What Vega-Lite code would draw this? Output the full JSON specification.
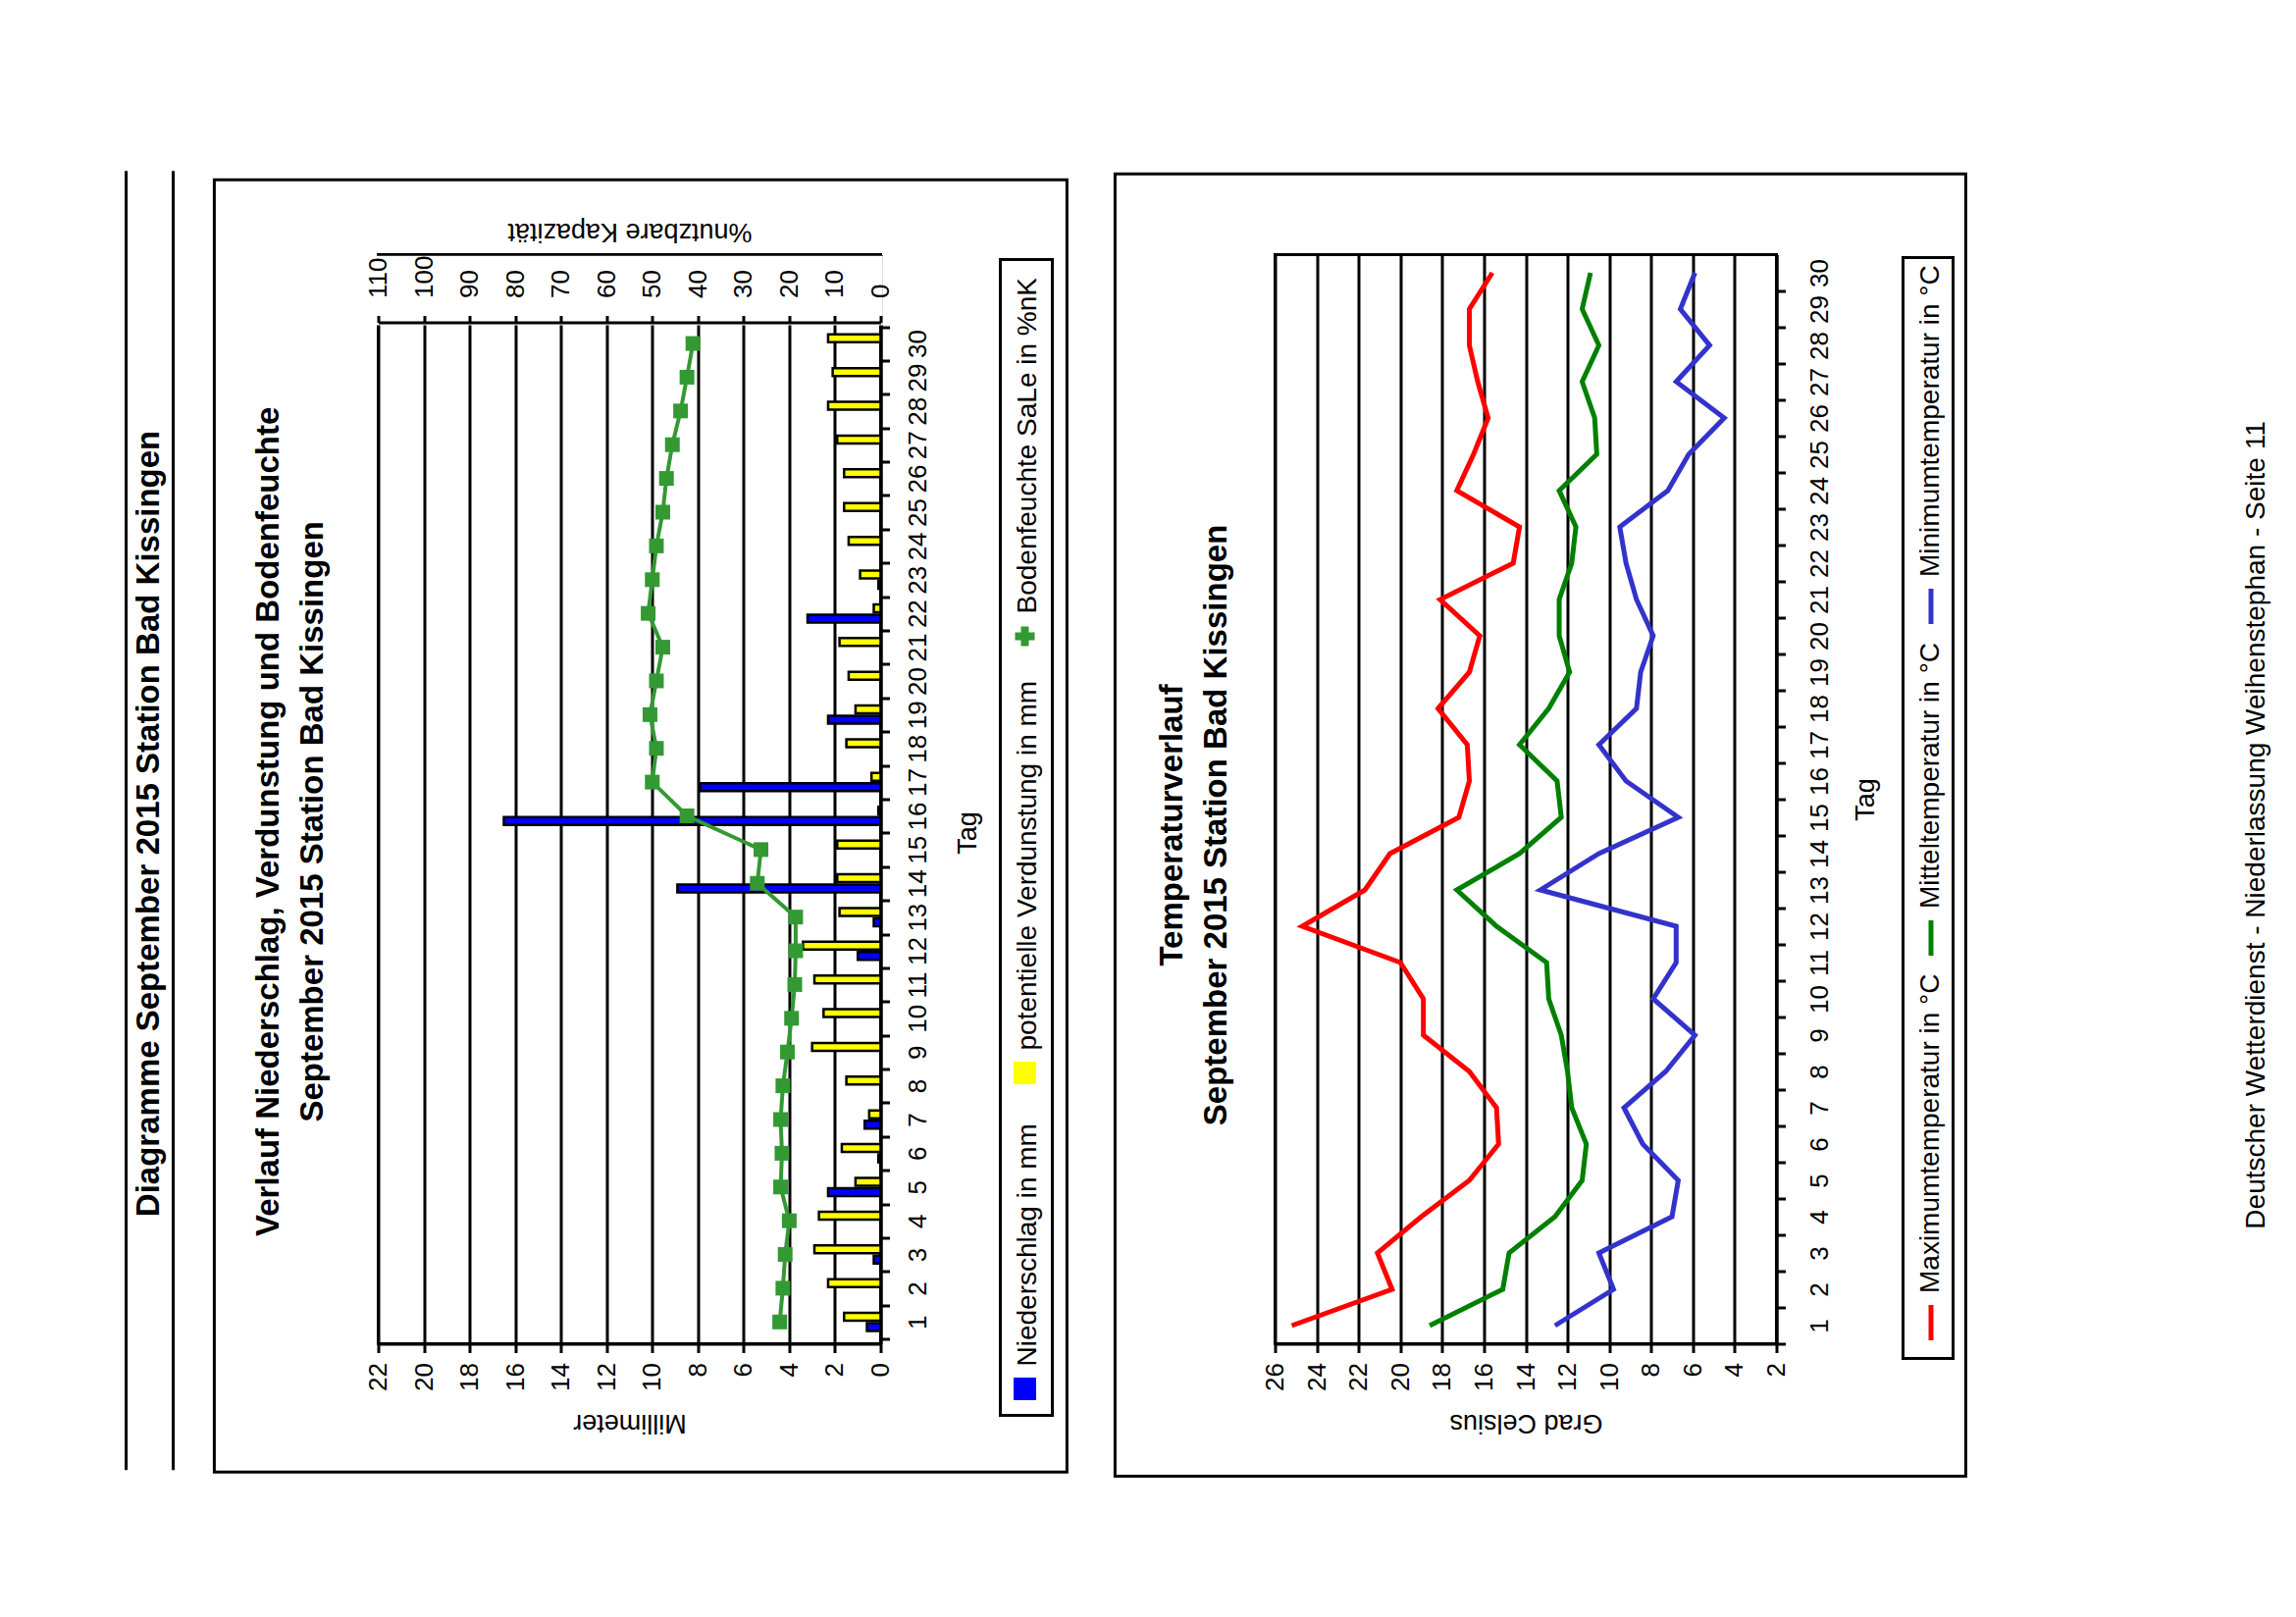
{
  "$schema": "https://vega.github.io/schema/vega-lite/v6.json",
  "background": "white",
  "padding": {"left": 125.5, "top": 170.5, "right": 0, "bottom": 0},
  "config": {
    "font": "Liberation Sans",
    "view": {"stroke": "black", "strokeWidth": 3},
    "axis": {
      "domainColor": "black", "domainWidth": 3,
      "tickColor": "black", "tickWidth": 3,
      "gridColor": "black", "gridWidth": 3, "gridOpacity": 1,
      "labelColor": "black", "labelFont": "Liberation Sans", "labelFontSize": 26,
      "titleColor": "black", "titleFont": "Liberation Sans", "titleFontSize": 27, "titleFontWeight": "normal",
      "labelOverlap": false, "labelFlush": false, "labelBound": false
    },
    "legend": {"labelFont": "Liberation Sans", "labelColor": "black"},
    "title": {"color": "black", "font": "Liberation Sans"}
  },
  "title": {"text": "Diagramme September 2015 Station Bad Kissingen", "orient": "left", "anchor": "middle", "frame": "bounds", "offset": -43, "fontSize": 33, "fontWeight": "bold"},
  "concat": [
    {
      "width": 512,
      "height": 1110,
      "data": {"values": [
        {"Tag": 1, "Niederschlag": 0.6, "Verdunstung": 1.6, "Bodenfeuchte": 22.1},
        {"Tag": 2, "Niederschlag": 0, "Verdunstung": 2.3, "Bodenfeuchte": 21.4},
        {"Tag": 3, "Niederschlag": 0.3, "Verdunstung": 2.9, "Bodenfeuchte": 20.9},
        {"Tag": 4, "Niederschlag": 0, "Verdunstung": 2.7, "Bodenfeuchte": 20.0},
        {"Tag": 5, "Niederschlag": 2.3, "Verdunstung": 1.1, "Bodenfeuchte": 21.9},
        {"Tag": 6, "Niederschlag": 0.1, "Verdunstung": 1.7, "Bodenfeuchte": 21.6},
        {"Tag": 7, "Niederschlag": 0.7, "Verdunstung": 0.5, "Bodenfeuchte": 21.9},
        {"Tag": 8, "Niederschlag": 0, "Verdunstung": 1.5, "Bodenfeuchte": 21.4},
        {"Tag": 9, "Niederschlag": 0, "Verdunstung": 3.0, "Bodenfeuchte": 20.4},
        {"Tag": 10, "Niederschlag": 0, "Verdunstung": 2.5, "Bodenfeuchte": 19.5},
        {"Tag": 11, "Niederschlag": 0, "Verdunstung": 2.9, "Bodenfeuchte": 18.8},
        {"Tag": 12, "Niederschlag": 1.0, "Verdunstung": 3.4, "Bodenfeuchte": 18.6},
        {"Tag": 13, "Niederschlag": 0.3, "Verdunstung": 1.8, "Bodenfeuchte": 18.6},
        {"Tag": 14, "Niederschlag": 8.9, "Verdunstung": 1.9, "Bodenfeuchte": 27.0},
        {"Tag": 15, "Niederschlag": 0, "Verdunstung": 1.9, "Bodenfeuchte": 26.2},
        {"Tag": 16, "Niederschlag": 16.5, "Verdunstung": 0.1, "Bodenfeuchte": 42.4},
        {"Tag": 17, "Niederschlag": 7.9, "Verdunstung": 0.4, "Bodenfeuchte": 50.0},
        {"Tag": 18, "Niederschlag": 0, "Verdunstung": 1.5, "Bodenfeuchte": 49.1},
        {"Tag": 19, "Niederschlag": 2.3, "Verdunstung": 1.1, "Bodenfeuchte": 50.5},
        {"Tag": 20, "Niederschlag": 0, "Verdunstung": 1.4, "Bodenfeuchte": 49.1},
        {"Tag": 21, "Niederschlag": 0, "Verdunstung": 1.8, "Bodenfeuchte": 47.7},
        {"Tag": 22, "Niederschlag": 3.2, "Verdunstung": 0.3, "Bodenfeuchte": 50.9},
        {"Tag": 23, "Niederschlag": 0.1, "Verdunstung": 0.9, "Bodenfeuchte": 50.0},
        {"Tag": 24, "Niederschlag": 0, "Verdunstung": 1.4, "Bodenfeuchte": 49.1},
        {"Tag": 25, "Niederschlag": 0, "Verdunstung": 1.6, "Bodenfeuchte": 47.7},
        {"Tag": 26, "Niederschlag": 0, "Verdunstung": 1.6, "Bodenfeuchte": 46.9},
        {"Tag": 27, "Niederschlag": 0, "Verdunstung": 1.9, "Bodenfeuchte": 45.6},
        {"Tag": 28, "Niederschlag": 0, "Verdunstung": 2.3, "Bodenfeuchte": 43.8},
        {"Tag": 29, "Niederschlag": 0, "Verdunstung": 2.1, "Bodenfeuchte": 42.4},
        {"Tag": 30, "Niederschlag": 0, "Verdunstung": 2.3, "Bodenfeuchte": 41.1}
      ]},
      "title": {"text": ["Verlauf Niederschlag, Verdunstung und Bodenfeuchte", "September 2015 Station Bad Kissingen"], "orient": "left", "anchor": "middle", "frame": "bounds", "offset": -209, "fontSize": 33, "fontWeight": "bold", "lineHeight": 45},
      "layer": [
        {
          "layer": [
            {
              "mark": {"type": "bar", "size": 8, "yOffset": 5.25, "stroke": "black", "strokeWidth": 2.5},
              "encoding": {
                "x": {"field": "Niederschlag", "type": "quantitative", "scale": {"domain": [0, 22], "reverse": true, "nice": false, "zero": false},
                  "axis": {"orient": "bottom", "values": [0, 2, 4, 6, 8, 10, 12, 14, 16, 18, 20, 22], "tickCount": 100, "format": "d", "labelAngle": 270, "labelAlign": "right", "labelBaseline": "middle", "labelPadding": 10, "labelOverlap": false, "tickSize": 9, "grid": true, "title": "Millimeter", "titleAngle": 180, "titleBaseline": "bottom", "titlePadding": 18}},
                "x2": {"datum": 0},
                "y": {"field": "Tag", "type": "quantitative", "scale": {"domain": [0.5, 32.488], "nice": false, "zero": false},
                  "axis": {"orient": "right", "values": [1, 2, 3, 4, 5, 6, 7, 8, 9, 10, 11, 12, 13, 14, 15, 16, 17, 18, 19, 20, 21, 22, 23, 24, 25, 26, 27, 28, 29, 30, 31], "tickCount": 100, "format": "d", "labelExpr": "datum.value > 30 ? '' : datum.label", "labelOverlap": false, "tickOffset": 17.35, "labelOffset": -17.35, "labelAngle": 270, "labelAlign": "center", "labelBaseline": "top", "labelPadding": 16, "tickSize": 9, "grid": false, "title": "Tag", "titleAngle": 270, "titleBaseline": "top", "titlePadding": 25, "titleY": 589}},
                "color": {"datum": "Niederschlag in mm", "scale": {"domain": ["Bodenfeuchte SaLe in %nK", "potentielle Verdunstung in mm", "Niederschlag in mm"], "range": ["#339933", "#FFFF00", "#0000FF"]},
                  "legend": {"orient": "none", "legendX": 634, "legendY": 5, "direction": "vertical", "title": " ", "titleFontSize": 1, "titleOpacity": 0, "titlePadding": 358, "strokeColor": "black", "fillColor": "white", "padding": 11, "rowPadding": 35, "labelFontSize": 28, "labelLimit": 2000, "labelAlign": "left", "labelBaseline": "middle", "labelOffset": 4, "symbolSize": 400, "symbolStrokeWidth": 3, "symbolStrokeColor": "black", "symbolType": "square",
                    "encoding": {
                      "labels": {"angle": {"value": 270}, "dx": {"value": 23}, "dy": {"value": -15}},
                      "symbols": {"shape": {"value": {"expr": "datum.value === 'Bodenfeuchte SaLe in %nK' ? 'cross' : 'square'"}}, "stroke": {"value": {"expr": "datum.value === 'Bodenfeuchte SaLe in %nK' ? 'transparent' : 'black'"}}, "strokeWidth": {"value": {"expr": "datum.value === 'Bodenfeuchte SaLe in %nK' ? 0 : 3"}}, "strokeOpacity": {"value": 1}, "opacity": {"value": 1}},
                      "legend": {"strokeWidth": {"value": 3}}
                    }}}
              }
            },
            {
              "mark": {"type": "bar", "size": 8, "yOffset": -5.25, "stroke": "black", "strokeWidth": 2.5},
              "encoding": {
                "x": {"field": "Verdunstung", "type": "quantitative", "scale": {"domain": [0, 22], "reverse": true, "nice": false, "zero": false}},
                "x2": {"datum": 0},
                "y": {"field": "Tag", "type": "quantitative", "scale": {"domain": [0.5, 32.488], "nice": false, "zero": false}},
                "color": {"datum": "potentielle Verdunstung in mm", "scale": {"domain": ["Bodenfeuchte SaLe in %nK", "potentielle Verdunstung in mm", "Niederschlag in mm"], "range": ["#339933", "#FFFF00", "#0000FF"]}}
              }
            },
            {
              "data": {"values": [{}]},
              "mark": {"type": "rect", "fill": "white", "stroke": null},
              "encoding": {
                "x": {"datum": 22.1, "type": "quantitative", "scale": {"domain": [0, 22], "reverse": true, "nice": false, "zero": false}},
                "x2": {"datum": -0.1},
                "y": {"datum": 32.6, "type": "quantitative", "scale": {"domain": [0.5, 32.488], "nice": false, "zero": false}},
                "y2": {"datum": 30.54}
              }
            },
            {
              "data": {"values": [{}]},
              "mark": {"type": "rect", "fill": "transparent", "stroke": "black", "strokeWidth": 3},
              "encoding": {
                "x": {"datum": 29.18, "type": "quantitative", "scale": {"domain": [0, 22], "reverse": true, "nice": false, "zero": false}},
                "x2": {"datum": -8.16},
                "y": {"datum": 34.85, "type": "quantitative", "scale": {"domain": [0.5, 32.488], "nice": false, "zero": false}},
                "y2": {"datum": -3.45}
              }
            },
            {
              "data": {"values": [{}]},
              "mark": {"type": "rule", "stroke": "black", "strokeWidth": 3},
              "encoding": {
                "x": {"datum": 33.04, "type": "quantitative", "scale": {"domain": [0, 22], "reverse": true, "nice": false, "zero": false}},
                "y": {"datum": 35.11, "type": "quantitative", "scale": {"domain": [0.5, 32.488], "nice": false, "zero": false}},
                "y2": {"datum": -3.39}
              }
            },
            {
              "data": {"values": [{}]},
              "mark": {"type": "rule", "stroke": "black", "strokeWidth": 3},
              "encoding": {
                "x": {"datum": 30.98, "type": "quantitative", "scale": {"domain": [0, 22], "reverse": true, "nice": false, "zero": false}},
                "y": {"datum": 35.11, "type": "quantitative", "scale": {"domain": [0.5, 32.488], "nice": false, "zero": false}},
                "y2": {"datum": -3.39}
              }
            }
          ]
        },
        {
          "mark": {"type": "line", "strokeWidth": 4, "point": {"shape": "square", "size": 225, "filled": true}},
          "encoding": {
            "x": {"field": "Bodenfeuchte", "type": "quantitative", "scale": {"domain": [0, 110], "reverse": true, "nice": false, "zero": false},
              "axis": {"orient": "top", "offset": -69, "zindex": 1, "values": [0, 10, 20, 30, 40, 50, 60, 70, 80, 90, 100, 110], "tickCount": 100, "format": "d", "labelAngle": 270, "labelAlign": "left", "labelBaseline": "middle", "labelPadding": 18, "labelOverlap": false, "tickSize": 7, "grid": false, "title": "%nutzbare Kapazität", "titleAngle": 180, "titleBaseline": "top", "titlePadding": 12}},
            "y": {"field": "Tag", "type": "quantitative", "scale": {"domain": [0.5, 32.488], "nice": false, "zero": false}},
            "order": {"field": "Tag", "type": "quantitative"},
            "color": {"datum": "Bodenfeuchte SaLe in %nK", "scale": {"domain": ["Bodenfeuchte SaLe in %nK", "potentielle Verdunstung in mm", "Niederschlag in mm"], "range": ["#339933", "#FFFF00", "#0000FF"]}}
          }
        }
      ],
      "resolve": {"scale": {"x": "independent"}, "axis": {"x": "independent"}}
    },
    {
      "title": {"text": "Deutscher Wetterdienst - Niederlassung Weihenstephan - Seite 11", "orient": "right", "anchor": "middle", "frame": "bounds", "angle": 270, "baseline": "top", "offset": 252, "fontSize": 28, "fontWeight": "normal"},
      "hconcat": [
        {
          "width": 511,
          "height": 1110,
          "data": {"values": [
            {"Tag": 1, "Max": 25.2, "Mittel": 18.6, "Min": 12.6},
            {"Tag": 2, "Max": 20.4, "Mittel": 15.1, "Min": 9.8},
            {"Tag": 3, "Max": 21.1, "Mittel": 14.8, "Min": 10.5},
            {"Tag": 4, "Max": 19.0, "Mittel": 12.6, "Min": 7.0},
            {"Tag": 5, "Max": 16.7, "Mittel": 11.3, "Min": 6.7},
            {"Tag": 6, "Max": 15.3, "Mittel": 11.1, "Min": 8.4},
            {"Tag": 7, "Max": 15.4, "Mittel": 11.8, "Min": 9.3},
            {"Tag": 8, "Max": 16.7, "Mittel": 12.0, "Min": 7.3},
            {"Tag": 9, "Max": 18.9, "Mittel": 12.3, "Min": 5.9},
            {"Tag": 10, "Max": 18.9, "Mittel": 12.9, "Min": 7.9},
            {"Tag": 11, "Max": 20.0, "Mittel": 13.0, "Min": 6.8},
            {"Tag": 12, "Max": 24.7, "Mittel": 15.4, "Min": 6.8},
            {"Tag": 13, "Max": 21.7, "Mittel": 17.3, "Min": 13.3},
            {"Tag": 14, "Max": 20.5, "Mittel": 14.3, "Min": 10.5},
            {"Tag": 15, "Max": 17.2, "Mittel": 12.3, "Min": 6.7},
            {"Tag": 16, "Max": 16.7, "Mittel": 12.5, "Min": 9.2},
            {"Tag": 17, "Max": 16.8, "Mittel": 14.3, "Min": 10.5},
            {"Tag": 18, "Max": 18.2, "Mittel": 12.9, "Min": 8.7},
            {"Tag": 19, "Max": 16.7, "Mittel": 11.9, "Min": 8.5},
            {"Tag": 20, "Max": 16.2, "Mittel": 12.4, "Min": 7.9},
            {"Tag": 21, "Max": 18.1, "Mittel": 12.4, "Min": 8.7},
            {"Tag": 22, "Max": 14.6, "Mittel": 11.8, "Min": 9.2},
            {"Tag": 23, "Max": 14.3, "Mittel": 11.6, "Min": 9.5},
            {"Tag": 24, "Max": 17.3, "Mittel": 12.4, "Min": 7.2},
            {"Tag": 25, "Max": 16.5, "Mittel": 10.6, "Min": 6.2},
            {"Tag": 26, "Max": 15.8, "Mittel": 10.7, "Min": 4.5},
            {"Tag": 27, "Max": 16.3, "Mittel": 11.3, "Min": 6.8},
            {"Tag": 28, "Max": 16.7, "Mittel": 10.5, "Min": 5.2},
            {"Tag": 29, "Max": 16.7, "Mittel": 11.3, "Min": 6.6},
            {"Tag": 30, "Max": 15.6, "Mittel": 10.9, "Min": 5.9}
          ]},
          "title": {"text": ["Temperaturverlauf", "September 2015 Station Bad Kissingen"], "orient": "left", "anchor": "middle", "frame": "bounds", "offset": -122, "fontSize": 33, "fontWeight": "bold", "lineHeight": 45},
          "layer": [
            {
              "mark": {"type": "line", "strokeWidth": 5},
              "encoding": {
                "x": {"field": "Max", "type": "quantitative", "scale": {"domain": [2, 26], "reverse": true, "nice": false, "zero": false},
                  "axis": {"orient": "bottom", "values": [2, 4, 6, 8, 10, 12, 14, 16, 18, 20, 22, 24, 26], "tickCount": 100, "format": "d", "labelAngle": 270, "labelAlign": "right", "labelBaseline": "middle", "labelPadding": 10, "labelOverlap": false, "tickSize": 9, "grid": true, "title": "Grad Celsius", "titleAngle": 180, "titleBaseline": "bottom", "titlePadding": 18}},
                "y": {"field": "Tag", "type": "quantitative", "scale": {"domain": [0.5, 30.5], "nice": false, "zero": false},
                  "axis": {"orient": "right", "values": [1, 2, 3, 4, 5, 6, 7, 8, 9, 10, 11, 12, 13, 14, 15, 16, 17, 18, 19, 20, 21, 22, 23, 24, 25, 26, 27, 28, 29, 30], "tickCount": 100, "format": "d", "labelOverlap": false, "tickOffset": 18.5, "labelOffset": -18.5, "labelAngle": 270, "labelAlign": "center", "labelBaseline": "top", "labelPadding": 22, "tickSize": 9, "grid": false, "title": "Tag", "titleAngle": 270, "titleBaseline": "top", "titlePadding": 21}},
                "order": {"field": "Tag", "type": "quantitative"},
                "color": {"datum": "Maximumtemperatur in °C", "scale": {"domain": ["Minimumtemperatur in °C", "Mitteltemperatur in °C", "Maximumtemperatur in °C"], "range": ["#3333CC", "#008000", "#FF0000"]},
                  "legend": {"orient": "none", "legendX": 640, "legendY": 3, "direction": "vertical", "title": " ", "titleFontSize": 1, "titleOpacity": 0, "titlePadding": 326, "strokeColor": "black", "fillColor": "white", "padding": 8, "rowPadding": 8, "labelFontSize": 28, "labelLimit": 2000, "labelAlign": "left", "labelBaseline": "middle", "labelOffset": 4, "symbolSize": 1296, "symbolStrokeWidth": 5, "symbolType": "M0,-1L0,1",
                    "encoding": {
                      "labels": {"angle": {"value": 270}, "dx": {"value": 30}, "dy": {"value": -24.5}},
                      "legend": {"strokeWidth": {"value": 3}}
                    }}}
              }
            },
            {
              "mark": {"type": "line", "strokeWidth": 5},
              "encoding": {
                "x": {"field": "Mittel", "type": "quantitative", "scale": {"domain": [2, 26], "reverse": true, "nice": false, "zero": false}},
                "y": {"field": "Tag", "type": "quantitative", "scale": {"domain": [0.5, 30.5], "nice": false, "zero": false}},
                "order": {"field": "Tag", "type": "quantitative"},
                "color": {"datum": "Mitteltemperatur in °C", "scale": {"domain": ["Minimumtemperatur in °C", "Mitteltemperatur in °C", "Maximumtemperatur in °C"], "range": ["#3333CC", "#008000", "#FF0000"]}}
              }
            },
            {
              "mark": {"type": "line", "strokeWidth": 5},
              "encoding": {
                "x": {"field": "Min", "type": "quantitative", "scale": {"domain": [2, 26], "reverse": true, "nice": false, "zero": false}},
                "y": {"field": "Tag", "type": "quantitative", "scale": {"domain": [0.5, 30.5], "nice": false, "zero": false}},
                "order": {"field": "Tag", "type": "quantitative"},
                "color": {"datum": "Minimumtemperatur in °C", "scale": {"domain": ["Minimumtemperatur in °C", "Mitteltemperatur in °C", "Maximumtemperatur in °C"], "range": ["#3333CC", "#008000", "#FF0000"]}}
              }
            },
            {
              "data": {"values": [{}]},
              "mark": {"type": "rect", "fill": "transparent", "stroke": "black", "strokeWidth": 3},
              "encoding": {
                "x": {"datum": 33.66, "type": "quantitative", "scale": {"domain": [2, 26], "reverse": true, "nice": false, "zero": false}},
                "x2": {"datum": -7.06},
                "y": {"datum": 32.72, "type": "quantitative", "scale": {"domain": [0.5, 30.5], "nice": false, "zero": false}},
                "y2": {"datum": -3.15}
              }
            }
          ]
        }
      ],
      "resolve": {"scale": {"color": "independent"}, "legend": {"color": "independent"}}
    }
  ],
  "columns": 2,
  "align": "none",
  "spacing": 42,
  "bounds": "full",
  "resolve": {"scale": {"color": "independent"}, "legend": {"color": "independent"}}
}
